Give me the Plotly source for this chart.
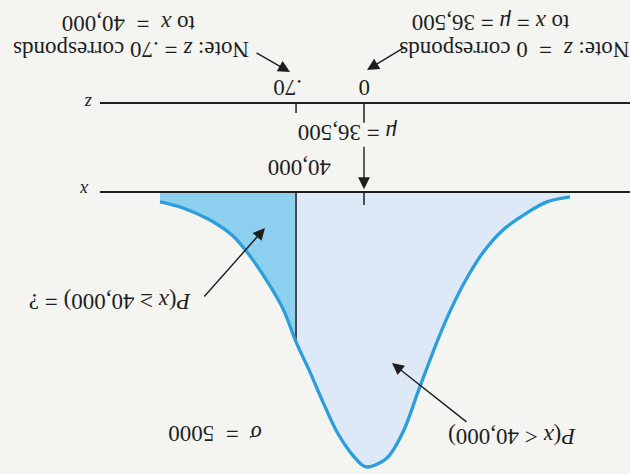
import plotly.graph_objects as go

# ---- data ----
MU = 36500
SIGMA = 5000
X_CUT = 40000
Z_CUT = 0.70

# curve (relative height, 1 = peak)
curve_x = [25891, 27075, 28105, 29341, 30371, 31401, 32225, 32946, 33719, 34491,
           35315, 36300, 36550, 37221, 37891, 38612, 39281, 40000, 40672, 41496,
           42371, 43247, 44431, 45822, 47006]
curve_y = [0.018, 0.036, 0.076, 0.138, 0.220, 0.338, 0.458, 0.582, 0.727, 0.873,
           0.967, 1.000, 0.995, 0.945, 0.873, 0.764, 0.655, 0.545, 0.425, 0.324,
           0.233, 0.160, 0.102, 0.058, 0.036]

z_ticks = [0, Z_CUT]
z_tick_labels = ["0", ".70"]

BG = "#f4f5f1"
DARK_FILL = "#8dcfee"
LIGHT_FILL = "#dde9f6"
CURVE = "#2b9edb"
INK = "#1e1e1e"
FONT = "Liberation Serif"

# x-axis range (reversed picture) and y range (reversed)
X_LEFT, X_RIGHT = 55246, 22801
Y_BOTTOM, Y_TOP = 1.0255, -0.6982
Z_LEFT = (X_LEFT - MU) / SIGMA
Z_RIGHT = (X_RIGHT - MU) / SIGMA
Z_AXIS_Y = -0.324

fig = go.Figure()

SPL = dict(shape="spline", smoothing=1.0)

# shaded areas
lx = [x for x in curve_x if x <= X_CUT]
ly = [y for x, y in zip(curve_x, curve_y) if x <= X_CUT]
rx = [x for x in curve_x if x >= X_CUT]
ry = [y for x, y in zip(curve_x, curve_y) if x >= X_CUT]
fig.add_trace(go.Scatter(x=lx, y=ly, fill="tozeroy", fillcolor=LIGHT_FILL,
                         mode="none", line=SPL, hoverinfo="skip"))
fig.add_trace(go.Scatter(x=rx, y=ry, fill="tozeroy", fillcolor=DARK_FILL,
                         mode="none", line=SPL, hoverinfo="skip"))

# vertical line at 40,000
cut_h = curve_y[curve_x.index(X_CUT)]
fig.add_trace(go.Scatter(x=[X_CUT, X_CUT], y=[0, cut_h], mode="lines",
                         line=dict(color=INK, width=1.5), hoverinfo="skip"))

# curve
fig.add_trace(go.Scatter(x=curve_x, y=curve_y, mode="lines",
                         line=dict(color=CURVE, width=3.3, **SPL), hoverinfo="skip"))

# x axis line and mean tick
fig.add_trace(go.Scatter(x=[50100, 20000], y=[0, 0], mode="lines",
                         line=dict(color=INK, width=2), hoverinfo="skip"))
fig.add_trace(go.Scatter(x=[MU, MU], y=[0, 0.047], mode="lines",
                         line=dict(color=INK, width=1.5), hoverinfo="skip"))

# z axis (in z units on overlaying axis)
fig.add_trace(go.Scatter(x=[2.72, -4], y=[Z_AXIS_Y, Z_AXIS_Y], mode="lines",
                         xaxis="x2", line=dict(color=INK, width=2), hoverinfo="skip"))
fig.add_trace(go.Scatter(x=[0, 0], y=[Z_AXIS_Y, -0.252], mode="lines", xaxis="x2",
                         line=dict(color=INK, width=1.5), hoverinfo="skip"))
fig.add_trace(go.Scatter(x=[Z_CUT, Z_CUT], y=[Z_AXIS_Y, -0.287], mode="lines", xaxis="x2",
                         line=dict(color=INK, width=1.5), hoverinfo="skip"))

ann = []
def txt(text, x, y, xref="paper", yref="paper", size=23, xshift=0):
    ann.append(dict(text=text, x=x, y=y, xref=xref, yref=yref, showarrow=False,
                    textangle=180, xanchor="center", yanchor="middle", xshift=xshift,
                    font=dict(family=FONT, size=size, color=INK)))

def arrow(x, y, ax, ay, xref="x", yref="y"):
    ann.append(dict(text="", x=x, y=y, xref=xref, yref=yref, ax=ax, ay=ay,
                    showarrow=True, arrowhead=2, arrowsize=1.7, arrowwidth=1.4,
                    arrowcolor=INK))

# z tick labels
for zt, lab, sh in zip(z_ticks, z_tick_labels, [0, -8]):
    txt(lab, zt, -0.378, xref="x2", yref="y", xshift=sh)

# notes
txt("Note: <i>z</i> = .70 corresponds", 0.208, 0.897)
txt("to <i>x</i>  =  40,000", 0.203, 0.949)
txt("Note: <i>z</i>  =  0 corresponds", 0.817, 0.897)
txt("to <i>x</i> = <i>μ</i> = 36,500", 0.778, 0.951)

txt("<i>μ</i> = 36,500", 37324, -0.2145, xref="x", yref="y")
txt("40,000", 39848, -0.087, xref="x", yref="y")

txt("<i>P</i>(<i>x</i> ≥ 40,000) = ?", 0.175, 0.365)
txt("<i>P</i>(<i>x</i> < 40,000)", 0.813, 0.078)
txt("<i>σ</i>  =  5000", 0.341, 0.0865)
txt("<i>z</i>", 0.140, 0.783, size=18)
txt("<i>x</i>", 0.135, 0.599, size=18)

# arrows
arrow(40311, -0.436, -35, -20)
arrow(36345, -0.4436, 38, -23)
arrow(MU, -0.01, 0, -44)
arrow(41599, 0.131, -62, 70)
arrow(35058, 0.622, 76, 60)

fig.update_layout(
    width=630, height=474,
    margin=dict(l=0, r=0, t=0, b=0),
    paper_bgcolor=BG, plot_bgcolor=BG,
    showlegend=False,
    annotations=ann,
    xaxis=dict(range=[X_LEFT, X_RIGHT], visible=False),
    xaxis2=dict(range=[Z_LEFT, Z_RIGHT], overlaying="x", visible=False),
    yaxis=dict(range=[Y_BOTTOM, Y_TOP], visible=False),
)

fig.write_html("out.html", config={"displayModeBar": False},
               post_script="document.body.style.margin='0px';document.body.style.background='" + BG + "';")
